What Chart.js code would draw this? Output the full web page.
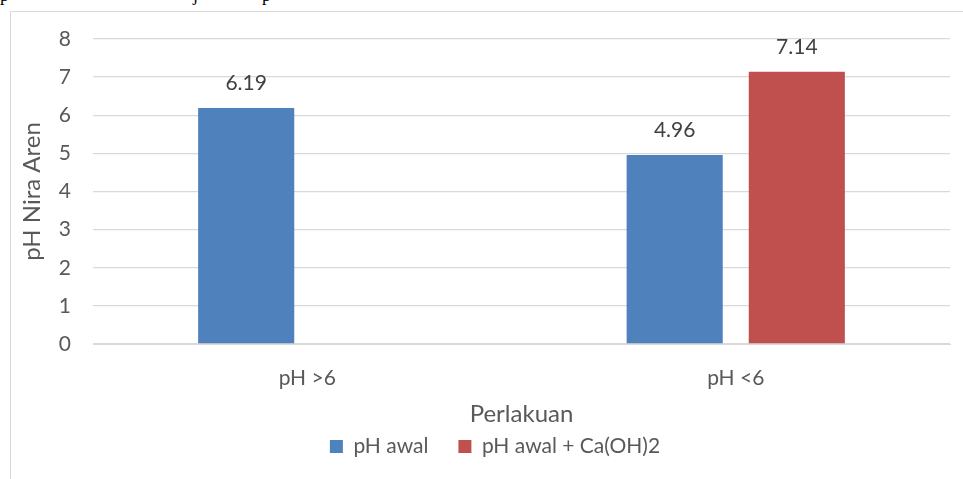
<!DOCTYPE html>
<html>
<head>
<meta charset="utf-8">
<script src="https://cdn.jsdelivr.net/npm/chart.js@4/dist/chart.umd.min.js"></script>
<style>
  html, body { margin: 0; padding: 0; background: #fff; overflow: hidden; }
  body { width: 963px; height: 479px; position: relative; }
  .doc-line { position: absolute; top: -15px; font: 18px "Liberation Serif", serif; color: #000; }
  .frame { position: absolute; left: 10px; top: 11px; width: 1000px; height: 500px;
           border-left: 1px solid #d9d9d9; border-top: 1px solid #d9d9d9; }
  .wrap { position: absolute; left: 11px; top: 12px; width: 968px; height: 467px; }
</style>
</head>
<body>
<span class="doc-line" style="left:0px">p</span>
<span class="doc-line" style="left:193px">j</span>
<span class="doc-line" style="left:262px">p</span>
<div class="frame"></div>
<div class="wrap"><canvas id="chart"></canvas></div>
<script>
const categories = ['pH >6', 'pH <6'];
const phAwal = [6.19, 4.96];
const phAwalCaOH = [null, 7.14];
const yTicks = [0, 1, 2, 3, 4, 5, 6, 7, 8];

const textColor = '#595959';
const fontFamily = 'Lato, "Open Sans", sans-serif';

// value labels above each bar
const valueLabels = {
  id: 'valueLabels',
  afterDatasetsDraw(chart) {
    const ctx = chart.ctx;
    ctx.save();
    ctx.font = '21px ' + fontFamily;
    ctx.fillStyle = '#404040';
    ctx.textAlign = 'center';
    ctx.textBaseline = 'middle';
    chart.data.datasets.forEach((ds, i) => {
      chart.getDatasetMeta(i).data.forEach((bar, j) => {
        const v = ds.data[j];
        if (v === null || v === undefined) return;
        ctx.fillText(v.toFixed(2), bar.x, bar.y - 25);
      });
    });
    ctx.restore();
  }
};

// legend is centred on the whole chart box, not the padded area
const legendShift = {
  id: 'legendShift',
  afterLayout(chart) {
    if (chart.legend) chart.legend.right += 29;
  }
};

new Chart(document.getElementById('chart'), {
  type: 'bar',
  data: {
    labels: categories,
    datasets: [
      {label: 'pH awal', data: phAwal, backgroundColor: '#4f81bd'},
      {label: 'pH awal + Ca(OH)2', data: phAwalCaOH, backgroundColor: '#c0504d'}
    ]
  },
  options: {
    responsive: true,
    maintainAspectRatio: false,
    animation: false,
    categoryPercentage: 0.57,
    barPercentage: 0.787,
    layout: {padding: {top: 27, right: 29, bottom: 12, left: 0}},
    plugins: {
      tooltip: {enabled: false},
      legend: {
        position: 'bottom',
        labels: {
          boxWidth: 13,
          boxHeight: 13,
          padding: 30,
          color: textColor,
          font: {family: fontFamily, size: 21}
        }
      }
    },
    scales: {
      x: {
        afterFit: (scale) => { scale.height = 62; },
        grid: {display: false, drawTicks: false},
        border: {color: '#d9d9d9'},
        ticks: {color: textColor, padding: 22, font: {family: fontFamily, size: 21}},
        title: {
          display: true, text: 'Perlakuan', color: textColor,
          font: {family: fontFamily, size: 24}, padding: {top: 7, bottom: -23}
        }
      },
      y: {
        min: 0,
        max: 8,
        afterBuildTicks: (scale) => { scale.ticks = yTicks.map(v => ({value: v})); },
        afterFit: (scale) => { scale.width = 82; scale.paddingTop = 12; },
        grid: {color: '#d9d9d9', lineWidth: 1.3, drawTicks: false},
        border: {display: false},
        ticks: {color: textColor, padding: 22, font: {family: fontFamily, size: 21}},
        title: {
          display: true, text: 'pH Nira Aren', color: textColor,
          font: {family: fontFamily, size: 24}, padding: {top: 7, bottom: 13}
        }
      }
    }
  },
  plugins: [valueLabels, legendShift]
});
</script>
</body>
</html>
